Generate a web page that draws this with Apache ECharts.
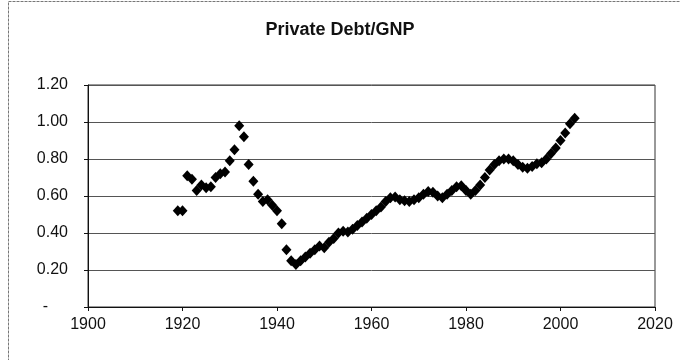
<!DOCTYPE html>
<html>
<head>
<meta charset="utf-8">
<script src="https://cdn.jsdelivr.net/npm/echarts@6/dist/echarts.min.js"></script>
<style>
  html, body { margin: 0; padding: 0; background: #fff; }
  #chart { width: 680px; height: 360px; }
</style>
</head>
<body>
<div id="chart"></div>
<script>
// Ratio of private debt to GNP, annual observations
const years = [
  1919, 1920, 1921, 1922, 1923, 1924, 1925, 1926, 1927, 1928,
  1929, 1930, 1931, 1932, 1933, 1934, 1935, 1936, 1937, 1938,
  1939, 1940, 1941, 1942, 1943, 1944, 1945, 1946, 1947, 1948,
  1949, 1950, 1951, 1952, 1953, 1954, 1955, 1956, 1957, 1958,
  1959, 1960, 1961, 1962, 1963, 1964, 1965, 1966, 1967, 1968,
  1969, 1970, 1971, 1972, 1973, 1974, 1975, 1976, 1977, 1978,
  1979, 1980, 1981, 1982, 1983, 1984, 1985, 1986, 1987, 1988,
  1989, 1990, 1991, 1992, 1993, 1994, 1995, 1996, 1997, 1998,
  1999, 2000, 2001, 2002, 2003
];
const debtToGnp = [
  0.52, 0.52, 0.71, 0.69, 0.63, 0.66, 0.645, 0.65, 0.70, 0.72,
  0.73, 0.79, 0.85, 0.98, 0.92, 0.77, 0.68, 0.61, 0.57, 0.58,
  0.55, 0.52, 0.45, 0.31, 0.25, 0.23, 0.25, 0.27, 0.29, 0.31,
  0.33, 0.32, 0.35, 0.37, 0.40, 0.41, 0.405, 0.42, 0.44, 0.46,
  0.48, 0.50, 0.52, 0.54, 0.57, 0.59, 0.595, 0.58, 0.575, 0.57,
  0.58, 0.59, 0.61, 0.625, 0.62, 0.60, 0.59, 0.61, 0.63, 0.65,
  0.655, 0.63, 0.61, 0.63, 0.66, 0.70, 0.74, 0.77, 0.79, 0.80,
  0.80, 0.79, 0.77, 0.755, 0.75, 0.76, 0.775, 0.78, 0.80, 0.83,
  0.86, 0.90, 0.94, 0.99, 1.02
];
const yTicks = [0, 0.2, 0.4, 0.6, 0.8, 1.0, 1.2];
const xTicks = [1900, 1920, 1940, 1960, 1980, 2000, 2020];

const points = years.map((y, i) => [y, debtToGnp[i]]);
const font = '"Liberation Sans", Arial, sans-serif';

const chart = echarts.init(document.getElementById('chart'), null, { renderer: 'canvas' });
chart.setOption({
  animation: false,
  backgroundColor: '#fff',
  title: {
    text: 'Private Debt/GNP',
    left: 'center',
    top: 16,
    textStyle: { fontFamily: font, fontSize: 18, fontWeight: 'bold', color: '#111' }
  },
  graphic: [{
    type: 'rect',
    silent: true,
    shape: { x: 8.5, y: 1.5, width: 700, height: 400 },
    style: { fill: 'none', stroke: '#777', lineWidth: 1, lineDash: [3, 1] }
  }, {
    type: 'rect',
    silent: true,
    shape: { x: 88, y: 85, width: 567, height: 222 },
    style: { fill: 'none', stroke: '#333', lineWidth: 1 }
  }],
  grid: { left: 88, right: 25, top: 85, bottom: 53 },
  xAxis: {
    type: 'value',
    min: xTicks[0],
    max: xTicks[xTicks.length - 1],
    interval: 20,
    axisLine: { show: true, onZero: false, lineStyle: { color: '#111', width: 1 } },
    axisTick: { show: true, inside: false, length: 4, lineStyle: { color: '#111' } },
    splitLine: { show: false },
    axisLabel: {
      margin: 10,
      fontFamily: font, fontSize: 16, color: '#111',
      formatter: v => String(v)
    }
  },
  yAxis: {
    type: 'value',
    min: yTicks[0],
    max: yTicks[yTicks.length - 1],
    interval: 0.2,
    axisLine: { show: true, lineStyle: { color: '#111', width: 1 } },
    axisTick: { show: true, inside: false, length: 4, lineStyle: { color: '#111' } },
    splitLine: { show: true, lineStyle: { color: '#555', width: 1 } },
    axisLabel: {
      margin: 20,
      fontFamily: font, fontSize: 16, color: '#111',
      formatter: v => Math.abs(v) < 1e-9 ? '{z|-}' : v.toFixed(2),
      rich: { z: { fontFamily: font, fontSize: 16, color: '#111', padding: [0, 20, 0, 0] } }
    }
  },
  series: [{
    type: 'scatter',
    data: points,
    symbol: 'diamond',
    symbolSize: [10, 11],
    itemStyle: { color: '#000', opacity: 1 }
  }]
});
</script>
</body>
</html>
